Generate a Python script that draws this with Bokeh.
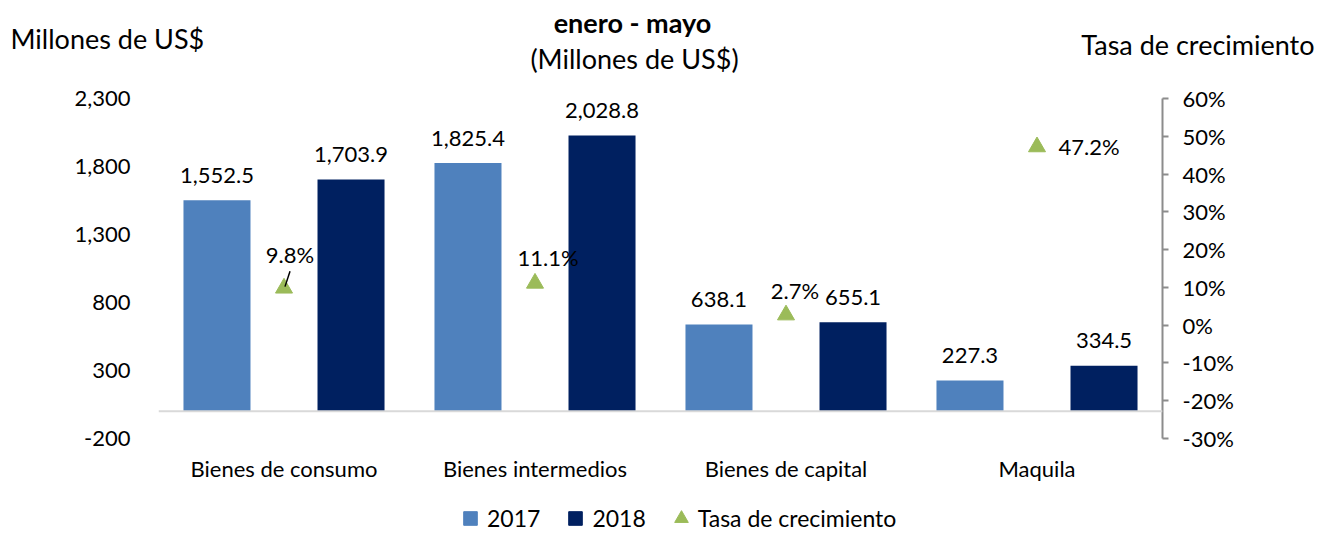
from bokeh.plotting import figure
from bokeh.layouts import column
from bokeh.models import (ColumnDataSource, Range1d, FactorRange, LinearAxis, FixedTicker,
                          NumeralTickFormatter, Span, Label, Legend, LegendItem)
from bokeh.transform import dodge
from bokeh.embed import file_html
from bokeh.resources import INLINE
from bokeh.core.properties import value

# ---------------- data ----------------
categories = ["Bienes de consumo", "Bienes intermedios", "Bienes de capital", "Maquila"]
values_2017 = [1552.5, 1825.4, 638.1, 227.3]
values_2018 = [1703.9, 2028.8, 655.1, 334.5]
growth_rate = [0.098, 0.111, 0.027, 0.472]
left_ticks = [-200, 300, 800, 1300, 1800, 2300]
right_ticks = [-0.3, -0.2, -0.1, 0.0, 0.1, 0.2, 0.3, 0.4, 0.5, 0.6]

# ---------------- styles ----------------
FONT = "Lato"
C2017 = "#4F81BD"
C2018 = "#002060"
CRATE = "#9BBB59"
rate_label_dx = [6, 13, 9, 52]
rate_label_dy = [-34, -26, -24, 0]

W = 1318
H_HEAD, H_MAIN, H_FOOT = 78, 410, 45

src = ColumnDataSource(dict(
    cat=categories,
    v17=values_2017,
    v18=values_2018,
    rate=growth_rate,
    l17=["{:,.1f}".format(v) for v in values_2017],
    l18=["{:,.1f}".format(v) for v in values_2018],
    lr=["{:.1f}%".format(r * 100) for r in growth_rate],
    dx=rate_label_dx,
    dy=rate_label_dy,
))

# ---------------- header (titles) ----------------
hdr = figure(width=W, height=H_HEAD, output_backend="svg", toolbar_location=None,
             x_range=Range1d(0, W), y_range=Range1d(H_HEAD, 0),
             x_axis_type=None, y_axis_type=None, min_border=0, frame_align=False)
hdr.outline_line_color = None
hdr.grid.visible = False


def lab(fig, text, x, y, align, size, style="normal"):
    fig.add_layout(Label(x=x, y=y, text=text, text_align=align, text_baseline="middle",
                         text_font=FONT, text_font_size=size, text_font_style=style,
                         text_color="#000000"))


lab(hdr, "Millones de US$", 10, 38, "left", "27px")
lab(hdr, "Tasa de crecimiento", 1314, 44, "right", "27px")
lab(hdr, "enero - mayo", 632, 22, "center", "27px", "bold")
lab(hdr, "(Millones de US$)", 634, 58, "center", "27px")

# ---------------- main chart ----------------
p = figure(width=W, height=H_MAIN, output_backend="svg", toolbar_location=None,
           x_range=FactorRange(factors=categories, range_padding=0, factor_padding=0),
           y_range=Range1d(-200, 2300),
           min_border_left=158, min_border_right=W - 1162, min_border_top=20,
           min_border_bottom=50, frame_align=False)
p.extra_y_ranges = {"rate": Range1d(-0.3, 0.6)}
p.outline_line_color = None
p.xgrid.visible = False
p.ygrid.visible = False

ya = p.yaxis[0]
ya.ticker = FixedTicker(ticks=left_ticks)
ya.formatter = NumeralTickFormatter(format="0,0")
ya.axis_line_color = None
ya.major_tick_line_color = None
ya.minor_tick_line_color = None
ya.major_label_standoff = 22
ya.major_label_text_font = FONT
ya.major_label_text_font_size = "22px"
ya.major_label_text_color = "#000000"

xa = p.xaxis[0]
xa.axis_line_color = None
xa.major_tick_line_color = None
xa.minor_tick_line_color = None
xa.major_label_standoff = 10
xa.major_label_text_font = FONT
xa.major_label_text_font_size = "22px"
xa.major_label_text_color = "#000000"

ra = LinearAxis(y_range_name="rate", ticker=FixedTicker(ticks=right_ticks),
                formatter=NumeralTickFormatter(format="0%"))
ra.axis_line_color = "#8C8C8C"
ra.axis_line_width = 2
ra.major_tick_line_color = "#8C8C8C"
ra.major_tick_line_width = 2
ra.major_tick_out = 6
ra.major_tick_in = 0
ra.minor_tick_line_color = None
ra.major_label_standoff = 14
ra.major_label_text_font = FONT
ra.major_label_text_font_size = "22px"
ra.major_label_text_color = "#000000"
p.add_layout(ra, "right")

p.add_layout(Span(location=0, dimension="width", line_color="#D9D9D9", line_width=2))

p.vbar(x=dodge("cat", -0.267, range=p.x_range), top="v17", width=0.267, source=src,
       fill_color=C2017, line_color=None)
p.vbar(x=dodge("cat", 0.267, range=p.x_range), top="v18", width=0.267, source=src,
       fill_color=C2018, line_color=None)

p.text(x=dodge("cat", -0.267, range=p.x_range), y="v17", text="l17", source=src,
       text_align="center", text_baseline="middle", y_offset=-25,
       text_font=value(FONT), text_font_size="22px", text_color="#000000")
p.text(x=dodge("cat", 0.267, range=p.x_range), y="v18", text="l18", source=src,
       text_align="center", text_baseline="middle", y_offset=-25,
       text_font=value(FONT), text_font_size="22px", text_color="#000000")

p.scatter(x="cat", y="rate", source=src, y_range_name="rate", marker="triangle",
          size=17, fill_color=CRATE, line_color=CRATE)
p.text(x="cat", y="rate", text="lr", source=src, y_range_name="rate",
       x_offset="dx", y_offset="dy", text_align="center", text_baseline="middle",
       text_font=value(FONT), text_font_size="22px", text_color="#000000")

lead = ColumnDataSource(dict(cat=categories[:1],
                             y0=[growth_rate[0] + 0.004],
                             y1=[growth_rate[0] + 0.045]))
p.segment(x0=dodge("cat", 0.004, range=p.x_range), y0="y0",
          x1=dodge("cat", 0.024, range=p.x_range), y1="y1",
          source=lead, y_range_name="rate", line_color="#000000", line_width=1.5)

# ---------------- footer (legend) ----------------
ftr = figure(width=W, height=H_FOOT, output_backend="svg", toolbar_location=None,
             x_range=Range1d(0, 1), y_range=Range1d(0, 1),
             x_axis_type=None, y_axis_type=None, min_border=0, frame_align=False)
ftr.outline_line_color = None
ftr.grid.visible = False
# legend keys: hidden proxies of the three series (same colours as in the chart)
g17 = ftr.scatter(x=[0], y=[0], marker="square", fill_color=C2017, line_color=C2017,
                  visible=False)
g18 = ftr.scatter(x=[0], y=[0], marker="square", fill_color=C2018, line_color=C2018,
                  visible=False)
gtr = ftr.scatter(x=[0], y=[0], marker="triangle", fill_color=CRATE, line_color=CRATE,
                  visible=False)

legend = Legend(items=[LegendItem(label="2017", renderers=[g17]),
                       LegendItem(label="2018", renderers=[g18]),
                       LegendItem(label="Tasa de crecimiento", renderers=[gtr])],
                orientation="horizontal", location=(453, -2),
                border_line_color=None, background_fill_alpha=0,
                label_text_font=FONT, label_text_font_size="23px",
                label_text_color="#000000",
                glyph_width=34, glyph_height=34, label_standoff=0, spacing=18,
                padding=0, margin=0, label_height=20)
ftr.add_layout(legend, "center")

layout = column(hdr, p, ftr, spacing=0)
open("out.html", "w").write(file_html(layout, INLINE))
